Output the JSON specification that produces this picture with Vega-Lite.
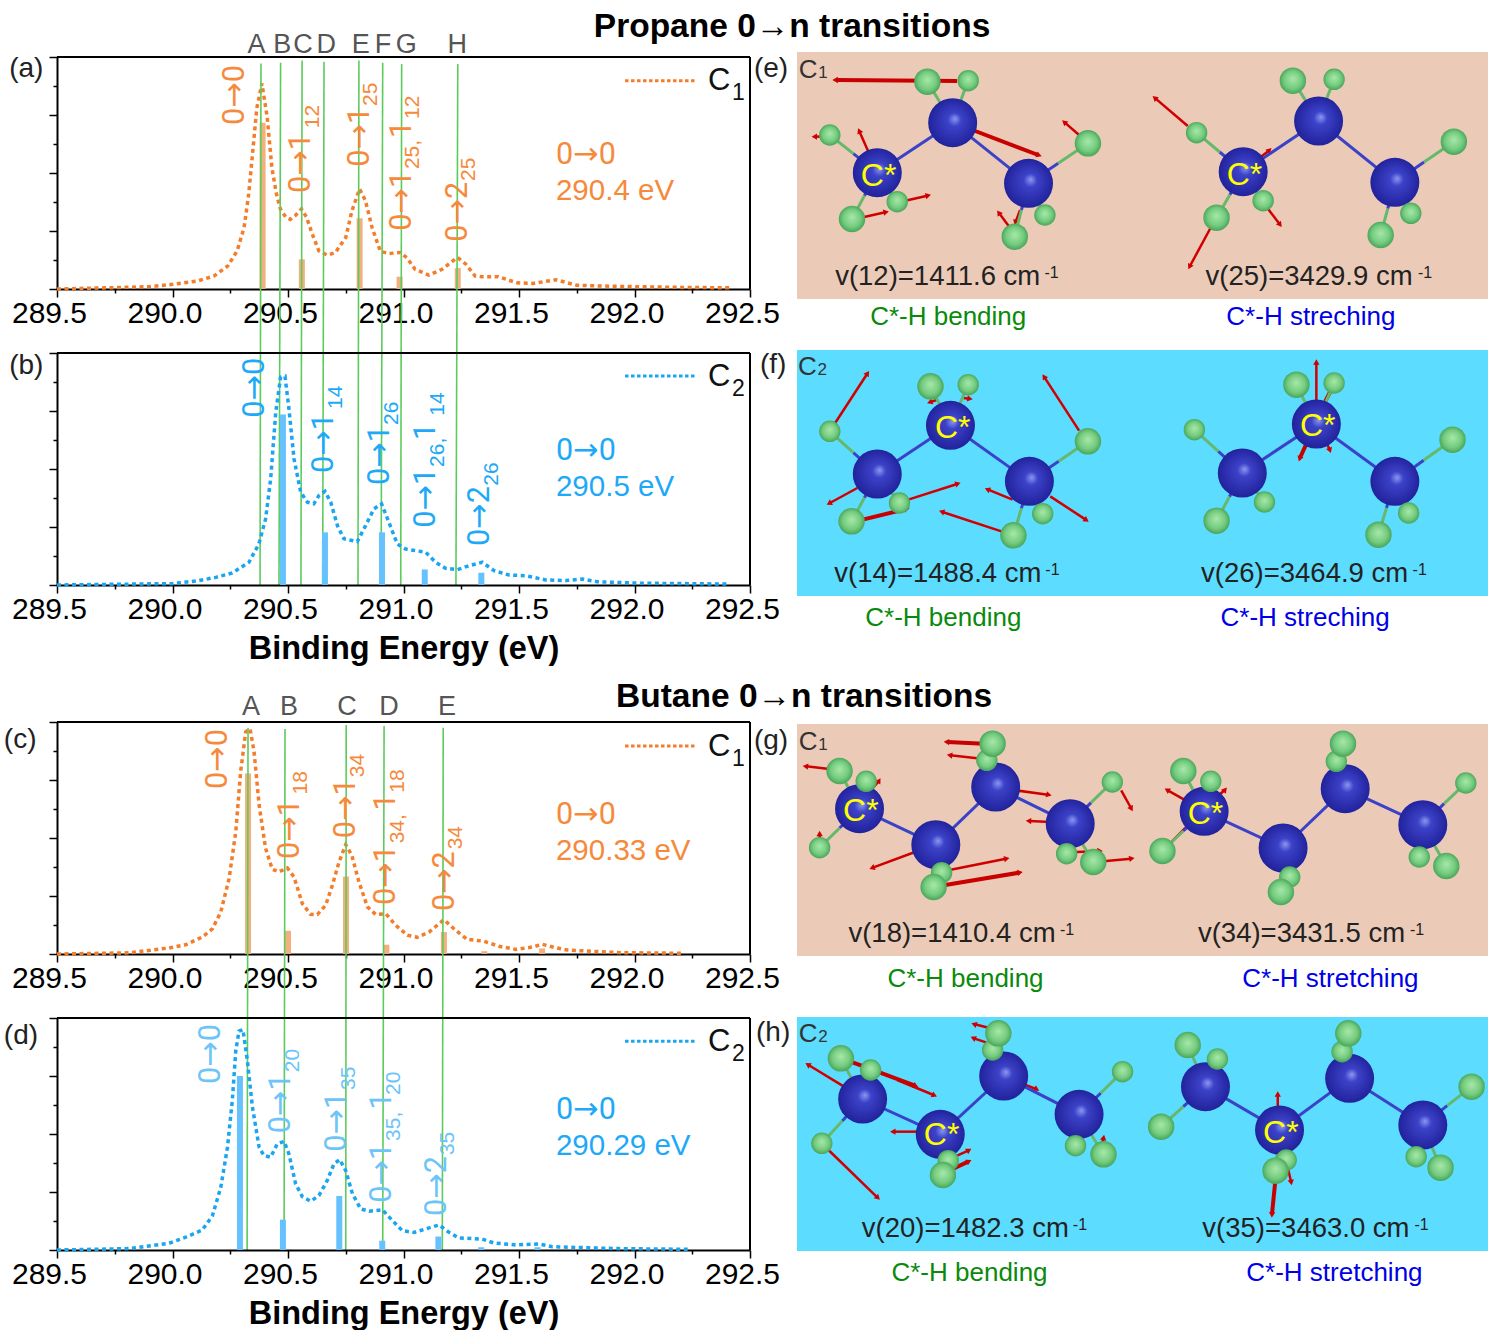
{"$schema":"https://vega.github.io/schema/vega-lite/v6.json","background":"white","padding":{"left":3,"top":10,"right":0,"bottom":0},"config":{"view":{"stroke":null},"text":{"font":"Liberation Sans"},"axis":{"grid":false,"domainColor":"#000","domainWidth":2,"tickColor":"#000","tickWidth":1.5,"labelFont":"Liberation Sans","labelFontSize":30,"labelColor":"#000","titleFont":"Liberation Sans","titleFontSize":32.5,"titleFontWeight":"bold","titleColor":"#000"}},"columns":2,"bounds":"flush","align":"each","spacing":{"row":0,"column":47},"concat":[
{"width":693,"height":237,"data":{"values":[
{"k":"title","x":292.682,"y":1.086,"t":"Propane 0→n transitions"},
{"k":"letter","x":290.364,"y":1.017,"t":"A"},{"k":"letter","x":290.475,"y":1.017,"t":"B"},{"k":"letter","x":290.565,"y":1.017,"t":"C"},{"k":"letter","x":290.666,"y":1.017,"t":"D"},{"k":"letter","x":290.815,"y":1.017,"t":"E"},{"k":"letter","x":290.911,"y":1.017,"t":"F"},{"k":"letter","x":291.012,"y":1.017,"t":"G"},{"k":"letter","x":291.233,"y":1.017,"t":"H"},
{"k":"p","x":289.293,"y":0.914,"t":"(a)"},{"k":"p","x":292.517,"y":0.914,"t":"(e)"},
{"k":"frame","x":289.5,"y":1,"x2":292.5,"y2":1},{"k":"frame","x":292.5,"y":0,"x2":292.5,"y2":1},
{"k":"leg","x":291.959,"y":0.898,"x2":292.266,"y2":0.898},{"k":"C","x":292.318,"y":0.858,"t":"C"},{"k":"Cs","x":292.422,"y":0.815,"t":"1"},
{"k":"noteA","x":291.66,"y":0.539,"t":"0→0"},{"k":"note","x":291.66,"y":0.384,"t":"290.4 eV"},
{"k":"stick","x":290.39,"y":0.717},{"k":"stick","x":290.56,"y":0.128},{"k":"stick","x":290.81,"y":0.305},{"k":"stick","x":290.983,"y":0.053},{"k":"stick","x":291.235,"y":0.09},
{"k":"lab","x":290.269,"y":0.707,"t":"0→0"},{"k":"lab","x":290.556,"y":0.414,"t":"0→1"},{"k":"lab","x":290.812,"y":0.527,"t":"0→1"},{"k":"lab","x":290.995,"y":0.251,"t":"0→1"},{"k":"lab","x":290.995,"y":0.651,"t":"1"},{"k":"lab","x":291.235,"y":0.204,"t":"0→2"},
{"k":"sub","x":290.607,"y":0.693,"t":"12"},{"k":"sub","x":290.858,"y":0.789,"t":"25"},{"k":"sub","x":291.041,"y":0.517,"t":"25,"},{"k":"sub","x":291.041,"y":0.733,"t":"12"},{"k":"sub","x":291.284,"y":0.466,"t":"25"},
{"k":"g","x":290.383,"y":0.972,"x2":290.379,"y2":-1.276},{"k":"g","x":290.468,"y":0.975,"x2":290.461,"y2":-1.276},{"k":"g","x":290.561,"y":0.985,"x2":290.556,"y2":-1.276},{"k":"g","x":290.656,"y":0.98,"x2":290.65,"y2":-1.276},{"k":"g","x":290.807,"y":0.985,"x2":290.803,"y2":-1.276},{"k":"g","x":290.91,"y":0.975,"x2":290.903,"y2":-1.276},{"k":"g","x":290.992,"y":0.97,"x2":290.988,"y2":-1.276},{"k":"g","x":291.235,"y":0.97,"x2":291.227,"y2":-1.276},
{"k":"curve","x":289.5,"y":0},{"k":"curve","x":289.75,"y":0.006},{"k":"curve","x":289.9,"y":0.01},{"k":"curve","x":290.0,"y":0.02},{"k":"curve","x":290.11,"y":0.035},{"k":"curve","x":290.18,"y":0.056},{"k":"curve","x":290.24,"y":0.1},{"k":"curve","x":290.28,"y":0.165},{"k":"curve","x":290.31,"y":0.265},{"k":"curve","x":290.33,"y":0.41},{"k":"curve","x":290.365,"y":0.78},{"k":"curve","x":290.387,"y":0.886},{"k":"curve","x":290.41,"y":0.74},{"k":"curve","x":290.43,"y":0.525},{"k":"curve","x":290.45,"y":0.41},{"k":"curve","x":290.467,"y":0.345},{"k":"curve","x":290.49,"y":0.31},{"k":"curve","x":290.51,"y":0.3},{"k":"curve","x":290.53,"y":0.315},{"k":"curve","x":290.558,"y":0.345},{"k":"curve","x":290.58,"y":0.31},{"k":"curve","x":290.605,"y":0.237},{"k":"curve","x":290.633,"y":0.165},{"k":"curve","x":290.67,"y":0.146},{"k":"curve","x":290.705,"y":0.157},{"k":"curve","x":290.75,"y":0.222},{"k":"curve","x":290.777,"y":0.338},{"k":"curve","x":290.81,"y":0.431},{"k":"curve","x":290.835,"y":0.381},{"k":"curve","x":290.864,"y":0.265},{"k":"curve","x":290.9,"y":0.162},{"k":"curve","x":290.936,"y":0.153},{"k":"curve","x":290.987,"y":0.157},{"k":"curve","x":291.016,"y":0.133},{"k":"curve","x":291.05,"y":0.085},{"k":"curve","x":291.11,"y":0.06},{"k":"curve","x":291.167,"y":0.085},{"k":"curve","x":291.233,"y":0.136},{"k":"curve","x":291.27,"y":0.107},{"k":"curve","x":291.31,"y":0.056},{"k":"curve","x":291.34,"y":0.053},{"k":"curve","x":291.41,"y":0.053},{"k":"curve","x":291.49,"y":0.027},{"k":"curve","x":291.56,"y":0.024},{"k":"curve","x":291.66,"y":0.04},{"k":"curve","x":291.75,"y":0.016},{"k":"curve","x":291.85,"y":0.013},{"k":"curve","x":292.0,"y":0.01},{"k":"curve","x":292.2,"y":0.007},{"k":"curve","x":292.42,"y":0.005}
]},"encoding":{"x":{"field":"x","type":"quantitative","scale":{"domain":[289.5,292.5],"nice":false,"zero":false},"axis":{"title":null,"values":[289.5,289.75,290,290.25,290.5,290.75,291,291.25,291.5,291.75,292,292.25,292.5],"labelExpr":"datum.value*2==round(datum.value*2)?format(datum.value,'.1f'):''","tickSize":{"condition":{"test":"datum.value*2==round(datum.value*2)","value":8},"value":4},"labelOffset":-8,"labelFlush":false,"labelOverlap":false,"labelPadding":1}},"y":{"field":"y","type":"quantitative","scale":{"domain":[0,1],"nice":false,"zero":false,"range":[237,5]},"axis":{"title":null,"labels":false,"values":[0,0.125,0.25,0.375,0.5,0.625,0.75,0.875,1],"tickSize":{"condition":{"test":"datum.value*4==round(datum.value*4)","value":8},"value":4}}}},"layer":[
{"transform":[{"filter":"datum.k=='stick'"}],"mark":{"type":"rule","color":"#F2B07F","strokeWidth":6},"encoding":{"y2":{"datum":0}}},
{"transform":[{"filter":"datum.k=='curve'"}],"mark":{"type":"line","color":"#F47D2B","strokeWidth":3.5,"strokeDash":[4,3.5]}},
{"transform":[{"filter":"datum.k=='g'"}],"mark":{"type":"rule","color":"#5CCB5C","strokeWidth":1.6},"encoding":{"x2":{"field":"x2"},"y2":{"field":"y2"}}},
{"transform":[{"filter":"datum.k=='frame'"}],"mark":{"type":"rule","color":"#000","strokeWidth":2},"encoding":{"x2":{"field":"x2"},"y2":{"field":"y2"}}},
{"transform":[{"filter":"datum.k=='leg'"}],"mark":{"type":"rule","color":"#F47D2B","strokeWidth":3,"strokeDash":[3.5,2.5]},"encoding":{"x2":{"field":"x2"},"y2":{"field":"y2"}}},
{"transform":[{"filter":"datum.k=='lab'"}],"mark":{"type":"text","font":"Roboto, DejaVu Sans","angle":270,"align":"left","baseline":"middle","fontSize":30.5,"color":"#F58A3C"},"encoding":{"text":{"field":"t"}}},
{"transform":[{"filter":"datum.k=='sub'"}],"mark":{"type":"text","angle":270,"align":"left","baseline":"middle","fontSize":21,"color":"#F58A3C"},"encoding":{"text":{"field":"t"}}},
{"transform":[{"filter":"datum.k=='letter'"}],"mark":{"type":"text","align":"center","baseline":"alphabetic","fontSize":27,"color":"#555"},"encoding":{"text":{"field":"t"}}},
{"transform":[{"filter":"datum.k=='title'"}],"mark":{"type":"text","align":"center","baseline":"alphabetic","fontSize":33.5,"fontWeight":"bold","color":"#000"},"encoding":{"text":{"field":"t"}}},
{"transform":[{"filter":"datum.k=='note'"}],"mark":{"type":"text","align":"left","baseline":"alphabetic","fontSize":29.5,"color":"#F58A3C"},"encoding":{"text":{"field":"t"}}},
{"transform":[{"filter":"datum.k=='noteA'"}],"mark":{"type":"text","font":"Roboto, DejaVu Sans","align":"left","baseline":"alphabetic","fontSize":30.5,"color":"#F58A3C"},"encoding":{"text":{"field":"t"}}},
{"transform":[{"filter":"datum.k=='C'"}],"mark":{"type":"text","align":"left","baseline":"alphabetic","fontSize":31,"color":"#111"},"encoding":{"text":{"field":"t"}}},
{"transform":[{"filter":"datum.k=='Cs'"}],"mark":{"type":"text","align":"left","baseline":"alphabetic","fontSize":23,"color":"#111"},"encoding":{"text":{"field":"t"}}},
{"transform":[{"filter":"datum.k=='p'"}],"mark":{"type":"text","align":"left","baseline":"alphabetic","fontSize":28,"color":"#222"},"encoding":{"text":{"field":"t"}}}
]},
{"width":691,"height":247,"data":{"values":[
{"k":"bg","x":4,"y":747,"x2":1562,"y2":6},
{"k":"AR","x":365,"y":93,"x2":92,"y2":90,"a":270},{"k":"ar","x":165,"y":305,"x2":145,"y2":245,"a":336},{"k":"ar","x":78,"y":258,"x2":45,"y2":260,"a":270},{"k":"AR","x":400,"y":240,"x2":548,"y2":315,"a":110},{"k":"ar","x":640,"y":255,"x2":608,"y2":218,"a":310},{"k":"ar","x":248,"y":452,"x2":298,"y2":437,"a":77},{"k":"ar","x":148,"y":503,"x2":203,"y2":487,"a":78},{"k":"ar","x":485,"y":535,"x2":460,"y2":490,"a":324},{"k":"ar","x":507,"y":480,"x2":497,"y2":515,"a":198},
{"k":"ar","x":885,"y":228,"x2":812,"y2":145,"a":311},{"k":"ar","x":940,"y":525,"x2":890,"y2":648,"a":208},{"k":"ar","x":1065,"y":475,"x2":1092,"y2":522,"a":143},{"k":"ar","x":1050,"y":320,"x2":1068,"y2":302,"a":45},
{"k":"b","x":185,"y":368,"xm":355,"ym":218},{"k":"b","x":355,"y":218,"xm":526,"ym":400},
{"k":"h","x":185,"y":368,"xm":131,"ym":311,"x2":78,"y2":255},{"k":"h","x":185,"y":368,"xm":156,"ym":437,"x2":128,"y2":507},{"k":"h","x":185,"y":368,"xm":207,"ym":411,"x2":230,"y2":455},{"k":"h","x":355,"y":218,"xm":326,"ym":156,"x2":298,"y2":95},{"k":"h","x":355,"y":218,"xm":372,"ym":155,"x2":390,"y2":92},{"k":"h","x":526,"y":400,"xm":593,"ym":340,"x2":660,"y2":280},{"k":"h","x":526,"y":400,"xm":510,"ym":480,"x2":495,"y2":560},{"k":"h","x":526,"y":400,"xm":544,"ym":447,"x2":563,"y2":495},
{"k":"b","x":1010,"y":365,"xm":1180,"ym":213},{"k":"b","x":1180,"y":213,"xm":1352,"ym":397},
{"k":"h","x":1010,"y":365,"xm":957,"ym":306,"x2":905,"y2":248},{"k":"h","x":1010,"y":365,"xm":980,"ym":434,"x2":950,"y2":503},{"k":"h","x":1010,"y":365,"xm":1032,"ym":408,"x2":1055,"y2":452},{"k":"h","x":1180,"y":213,"xm":1151,"ym":152,"x2":1122,"y2":92},{"k":"h","x":1180,"y":213,"xm":1197,"ym":150,"x2":1215,"y2":88},{"k":"h","x":1352,"y":397,"xm":1418,"ym":336,"x2":1485,"y2":275},{"k":"h","x":1352,"y":397,"xm":1336,"ym":476,"x2":1320,"y2":555},{"k":"h","x":1352,"y":397,"xm":1370,"ym":443,"x2":1388,"y2":490},
{"k":"atomC","x":185,"y":368},{"k":"atomC","x":355,"y":218},{"k":"atomC","x":526,"y":400},{"k":"atomC","x":1010,"y":365},{"k":"atomC","x":1180,"y":213},{"k":"atomC","x":1352,"y":397},
{"k":"atomH","s":"small","x":78,"y":255},{"k":"atomH","s":"big","x":298,"y":95},{"k":"atomH","s":"small","x":390,"y":92},{"k":"atomH","s":"big","x":660,"y":280},{"k":"atomH","s":"big","x":128,"y":507},{"k":"atomH","s":"small","x":230,"y":455},{"k":"atomH","s":"big","x":495,"y":560},{"k":"atomH","s":"small","x":563,"y":495},
{"k":"atomH","s":"small","x":905,"y":248},{"k":"atomH","s":"big","x":1122,"y":92},{"k":"atomH","s":"small","x":1215,"y":88},{"k":"atomH","s":"big","x":1485,"y":275},{"k":"atomH","s":"big","x":950,"y":503},{"k":"atomH","s":"small","x":1055,"y":452},{"k":"atomH","s":"big","x":1320,"y":555},{"k":"atomH","s":"small","x":1388,"y":490},
{"k":"star","x":188,"y":408,"t":"C*"},{"k":"star","x":1013,"y":405,"t":"C*"},
{"k":"v","x":90,"y":705,"t":"v(12)=1411.6 cm"},{"k":"v","x":925,"y":705,"t":"v(25)=3429.9 cm"},{"k":"sup","x":562,"y":685,"t":"-1"},{"k":"sup","x":1404,"y":685,"t":"-1"},
{"k":"c","x":8,"y":85,"t":"C"},{"k":"cs","x":52,"y":85,"t":"1"},
{"k":"capg","x":169,"y":825,"t":"C*-H bending"},{"k":"capb","x":972,"y":825,"t":"C*-H streching"}
]},"encoding":{"x":{"field":"x","type":"quantitative","scale":{"domain":[4,1562],"nice":false,"zero":false,"range":[0,691]},"axis":null},"y":{"field":"y","type":"quantitative","scale":{"domain":[747,6],"nice":false,"zero":false,"range":[247,0]},"axis":null}},"layer":[
{"transform":[{"filter":"datum.k=='bg'"}],"mark":{"type":"rect","color":"#EBCBB7"},"encoding":{"x2":{"field":"x2"},"y2":{"field":"y2"}}},
{"transform":[{"filter":"datum.k=='ar'"}],"mark":{"type":"rule","color":"#D00000","strokeWidth":2.5},"encoding":{"x2":{"field":"x2"},"y2":{"field":"y2"}}},
{"transform":[{"filter":"datum.k=='AR'"}],"mark":{"type":"rule","color":"#C80000","strokeWidth":4},"encoding":{"x2":{"field":"x2"},"y2":{"field":"y2"}}},
{"transform":[{"filter":"datum.k=='ar'||datum.k=='AR'"}],"mark":{"type":"point","shape":"triangle","filled":true,"color":"#D00000","opacity":1,"size":40},"encoding":{"x":{"field":"x2","type":"quantitative","axis":null},"y":{"field":"y2","type":"quantitative","axis":null},"angle":{"field":"a","type":"quantitative","scale":null}}},
{"transform":[{"filter":"datum.k=='b'||datum.k=='h'"}],"mark":{"type":"rule","color":"#3A42C8","strokeWidth":3},"encoding":{"x2":{"field":"xm"},"y2":{"field":"ym"}}},
{"transform":[{"filter":"datum.k=='h'"}],"mark":{"type":"rule","color":"#66B86A","strokeWidth":3},"encoding":{"x":{"field":"xm","type":"quantitative","axis":null},"y":{"field":"ym","type":"quantitative","axis":null},"x2":{"field":"x2"},"y2":{"field":"y2"}}},
{"transform":[{"filter":"datum.k=='atomC'"}],"mark":{"type":"point","shape":"circle","filled":true,"opacity":1,"size":2400,"fill":{"gradient":"radial","x1":0.55,"y1":0.42,"r1":0,"x2":0.5,"y2":0.5,"r2":0.55,"stops":[{"offset":0,"color":"#8C98F0"},{"offset":0.25,"color":"#3C42C8"},{"offset":1,"color":"#1E1E96"}]}}},
{"transform":[{"filter":"datum.k=='atomH'"}],"mark":{"type":"point","shape":"circle","filled":true,"opacity":1,"fill":{"gradient":"radial","x1":0.5,"y1":0.42,"r1":0,"x2":0.5,"y2":0.5,"r2":0.55,"stops":[{"offset":0,"color":"#A8E8A8"},{"offset":0.6,"color":"#74CC80"},{"offset":1,"color":"#3F9B50"}]}},"encoding":{"size":{"field":"s","type":"nominal","scale":{"domain":["big","small"],"range":[700,460]},"legend":null}}},
{"transform":[{"filter":"datum.k=='star'"}],"mark":{"type":"text","align":"center","baseline":"alphabetic","fontSize":32,"color":"#FFFF00"},"encoding":{"text":{"field":"t"}}},
{"transform":[{"filter":"datum.k=='v'"}],"mark":{"type":"text","align":"left","baseline":"alphabetic","fontSize":27.5,"color":"#222"},"encoding":{"text":{"field":"t"}}},
{"transform":[{"filter":"datum.k=='sup'"}],"mark":{"type":"text","align":"left","baseline":"alphabetic","fontSize":16,"color":"#222"},"encoding":{"text":{"field":"t"}}},
{"transform":[{"filter":"datum.k=='c'"}],"mark":{"type":"text","align":"left","baseline":"alphabetic","fontSize":26,"color":"#333"},"encoding":{"text":{"field":"t"}}},
{"transform":[{"filter":"datum.k=='cs'"}],"mark":{"type":"text","align":"left","baseline":"alphabetic","fontSize":17,"color":"#333"},"encoding":{"text":{"field":"t"}}},
{"transform":[{"filter":"datum.k=='capg'"}],"mark":{"type":"text","align":"left","baseline":"alphabetic","fontSize":26,"color":"#0A8A0A"},"encoding":{"text":{"field":"t"}}},
{"transform":[{"filter":"datum.k=='capb'"}],"mark":{"type":"text","align":"left","baseline":"alphabetic","fontSize":26,"color":"#0000E6"},"encoding":{"text":{"field":"t"}}}
]},
{"width":1,"height":51,"data":{"values":[{"z":0}]},"mark":{"type":"rule","opacity":0},"encoding":{}},
{"width":1,"height":51,"data":{"values":[{"z":0}]},"mark":{"type":"rule","opacity":0},"encoding":{}},
{"width":693,"height":235,"data":{"values":[
{"k":"p","x":289.293,"y":0.909,"t":"(b)"},{"k":"p","x":292.543,"y":0.913,"t":"(f)"},
{"k":"frame","x":289.5,"y":1,"x2":292.5,"y2":1},{"k":"frame","x":292.5,"y":0,"x2":292.5,"y2":1},
{"k":"leg","x":291.959,"y":0.901,"x2":292.266,"y2":0.901},{"k":"C","x":292.318,"y":0.858,"t":"C"},{"k":"Cs","x":292.422,"y":0.815,"t":"2"},
{"k":"noteA","x":291.66,"y":0.539,"t":"0→0"},{"k":"note","x":291.66,"y":0.384,"t":"290.5 eV"},
{"k":"stick","x":290.478,"y":0.735},{"k":"stick","x":290.66,"y":0.227},{"k":"stick","x":290.907,"y":0.227},{"k":"stick","x":291.092,"y":0.067},{"k":"stick","x":291.337,"y":0.053},
{"k":"lab","x":290.356,"y":0.721,"t":"0→0"},{"k":"lab","x":290.656,"y":0.483,"t":"0→1"},{"k":"lab","x":290.897,"y":0.431,"t":"0→1"},{"k":"lab","x":291.099,"y":0.247,"t":"0→1"},{"k":"lab","x":291.099,"y":0.625,"t":"1"},{"k":"lab","x":291.33,"y":0.168,"t":"0→2"},
{"k":"sub","x":290.706,"y":0.759,"t":"14"},{"k":"sub","x":290.949,"y":0.69,"t":"26"},{"k":"sub","x":291.148,"y":0.509,"t":"26,"},{"k":"sub","x":291.148,"y":0.73,"t":"14"},{"k":"sub","x":291.382,"y":0.428,"t":"26"},
{"k":"curve","x":289.5,"y":0},{"k":"curve","x":290.0,"y":0.006},{"k":"curve","x":290.115,"y":0.019},{"k":"curve","x":290.187,"y":0.033},{"k":"curve","x":290.259,"y":0.052},{"k":"curve","x":290.331,"y":0.098},{"k":"curve","x":290.374,"y":0.177},{"k":"curve","x":290.403,"y":0.285},{"k":"curve","x":290.425,"y":0.458},{"k":"curve","x":290.447,"y":0.745},{"k":"curve","x":290.468,"y":0.896},{"k":"curve","x":290.487,"y":0.9},{"k":"curve","x":290.504,"y":0.76},{"k":"curve","x":290.526,"y":0.544},{"k":"curve","x":290.555,"y":0.4},{"k":"curve","x":290.584,"y":0.357},{"k":"curve","x":290.612,"y":0.35},{"k":"curve","x":290.634,"y":0.386},{"k":"curve","x":290.66,"y":0.404},{"k":"curve","x":290.685,"y":0.357},{"k":"curve","x":290.714,"y":0.256},{"k":"curve","x":290.742,"y":0.199},{"k":"curve","x":290.8,"y":0.187},{"k":"curve","x":290.836,"y":0.256},{"k":"curve","x":290.872,"y":0.328},{"k":"curve","x":290.905,"y":0.35},{"k":"curve","x":290.937,"y":0.27},{"k":"curve","x":290.973,"y":0.177},{"k":"curve","x":291.009,"y":0.155},{"k":"curve","x":291.096,"y":0.141},{"k":"curve","x":291.139,"y":0.098},{"k":"curve","x":291.182,"y":0.072},{"k":"curve","x":291.233,"y":0.066},{"k":"curve","x":291.283,"y":0.083},{"k":"curve","x":291.341,"y":0.098},{"k":"curve","x":291.392,"y":0.062},{"k":"curve","x":291.457,"y":0.043},{"k":"curve","x":291.529,"y":0.04},{"k":"curve","x":291.615,"y":0.022},{"k":"curve","x":291.702,"y":0.019},{"k":"curve","x":291.774,"y":0.026},{"k":"curve","x":291.839,"y":0.014},{"k":"curve","x":292.02,"y":0.008},{"k":"curve","x":292.41,"y":0.004}
]},"encoding":{"x":{"field":"x","type":"quantitative","scale":{"domain":[289.5,292.5],"nice":false,"zero":false},"axis":{"title":"Binding Energy (eV)","titlePadding":8,"values":[289.5,289.75,290,290.25,290.5,290.75,291,291.25,291.5,291.75,292,292.25,292.5],"labelExpr":"datum.value*2==round(datum.value*2)?format(datum.value,'.1f'):''","tickSize":{"condition":{"test":"datum.value*2==round(datum.value*2)","value":8},"value":4},"labelOffset":-8,"labelFlush":false,"labelOverlap":false,"labelPadding":1}},"y":{"field":"y","type":"quantitative","scale":{"domain":[0,1],"nice":false,"zero":false,"range":[235,3]},"axis":{"title":null,"labels":false,"values":[0,0.125,0.25,0.375,0.5,0.625,0.75,0.875,1],"tickSize":{"condition":{"test":"datum.value*4==round(datum.value*4)","value":8},"value":4}}}},"layer":[
{"transform":[{"filter":"datum.k=='stick'"}],"mark":{"type":"rule","color":"#66C2FF","strokeWidth":6},"encoding":{"y2":{"datum":0}}},
{"transform":[{"filter":"datum.k=='curve'"}],"mark":{"type":"line","color":"#1AA5F0","strokeWidth":3.5,"strokeDash":[4,3.5]}},
{"transform":[{"filter":"datum.k=='frame'"}],"mark":{"type":"rule","color":"#000","strokeWidth":2},"encoding":{"x2":{"field":"x2"},"y2":{"field":"y2"}}},
{"transform":[{"filter":"datum.k=='leg'"}],"mark":{"type":"rule","color":"#1AA5F0","strokeWidth":3,"strokeDash":[3.5,2.5]},"encoding":{"x2":{"field":"x2"},"y2":{"field":"y2"}}},
{"transform":[{"filter":"datum.k=='lab'"}],"mark":{"type":"text","font":"Roboto, DejaVu Sans","angle":270,"align":"left","baseline":"middle","fontSize":30.5,"color":"#1EA9F8"},"encoding":{"text":{"field":"t"}}},
{"transform":[{"filter":"datum.k=='sub'"}],"mark":{"type":"text","angle":270,"align":"left","baseline":"middle","fontSize":21,"color":"#1EA9F8"},"encoding":{"text":{"field":"t"}}},
{"transform":[{"filter":"datum.k=='note'"}],"mark":{"type":"text","align":"left","baseline":"alphabetic","fontSize":29.5,"color":"#1EA9F8"},"encoding":{"text":{"field":"t"}}},
{"transform":[{"filter":"datum.k=='noteA'"}],"mark":{"type":"text","font":"Roboto, DejaVu Sans","align":"left","baseline":"alphabetic","fontSize":30.5,"color":"#1EA9F8"},"encoding":{"text":{"field":"t"}}},
{"transform":[{"filter":"datum.k=='C'"}],"mark":{"type":"text","align":"left","baseline":"alphabetic","fontSize":31,"color":"#111"},"encoding":{"text":{"field":"t"}}},
{"transform":[{"filter":"datum.k=='Cs'"}],"mark":{"type":"text","align":"left","baseline":"alphabetic","fontSize":23,"color":"#111"},"encoding":{"text":{"field":"t"}}},
{"transform":[{"filter":"datum.k=='p'"}],"mark":{"type":"text","align":"left","baseline":"alphabetic","fontSize":28,"color":"#222"},"encoding":{"text":{"field":"t"}}}
]},
{"width":691,"height":246,"data":{"values":[
{"k":"bg","x":4,"y":744,"x2":1562,"y2":6},
{"k":"ar","x":90,"y":225,"x2":162,"y2":78,"a":33},{"k":"ar","x":640,"y":248,"x2":562,"y2":88,"a":327},{"k":"ar","x":140,"y":420,"x2":78,"y2":465,"a":241},{"k":"ar","x":255,"y":455,"x2":365,"y2":408,"a":72},{"k":"AR","x":143,"y":518,"x2":250,"y2":483,"a":76},{"k":"ar","x":465,"y":550,"x2":332,"y2":492,"a":288},{"k":"ar","x":490,"y":455,"x2":435,"y2":425,"a":293},{"k":"ar","x":575,"y":445,"x2":655,"y2":515,"a":123},{"k":"ar","x":322,"y":155,"x2":305,"y2":162,"a":250},{"k":"ar","x":380,"y":150,"x2":392,"y2":152,"a":100},
{"k":"ar","x":1175,"y":160,"x2":1175,"y2":45,"a":0},{"k":"AR","x":1195,"y":160,"x2":1210,"y2":122,"a":20},{"k":"AR","x":1155,"y":280,"x2":1138,"y2":330,"a":198},{"k":"ar","x":1200,"y":290,"x2":1205,"y2":305,"a":160},
{"k":"b","x":185,"y":378,"xm":350,"ym":232},{"k":"b","x":350,"y":232,"xm":528,"ym":400},
{"k":"h","x":185,"y":378,"xm":131,"ym":314,"x2":78,"y2":250},{"k":"h","x":185,"y":378,"xm":156,"ym":449,"x2":127,"y2":520},{"k":"h","x":185,"y":378,"xm":210,"ym":421,"x2":235,"y2":465},{"k":"h","x":350,"y":232,"xm":327,"ym":173,"x2":305,"y2":115},{"k":"h","x":350,"y":232,"xm":370,"ym":171,"x2":390,"y2":110},{"k":"h","x":528,"y":400,"xm":594,"ym":340,"x2":660,"y2":280},{"k":"h","x":528,"y":400,"xm":510,"ym":481,"x2":492,"y2":562},{"k":"h","x":528,"y":400,"xm":543,"ym":448,"x2":558,"y2":497},
{"k":"b","x":1008,"y":375,"xm":1175,"ym":228},{"k":"b","x":1175,"y":228,"xm":1352,"ym":400},
{"k":"h","x":1008,"y":375,"xm":954,"ym":310,"x2":900,"y2":245},{"k":"h","x":1008,"y":375,"xm":979,"ym":446,"x2":950,"y2":518},{"k":"h","x":1008,"y":375,"xm":1033,"ym":418,"x2":1058,"y2":462},{"k":"h","x":1175,"y":228,"xm":1152,"ym":169,"x2":1130,"y2":110},{"k":"h","x":1175,"y":228,"xm":1195,"ym":166,"x2":1215,"y2":105},{"k":"h","x":1352,"y":400,"xm":1417,"ym":337,"x2":1482,"y2":275},{"k":"h","x":1352,"y":400,"xm":1333,"ym":480,"x2":1315,"y2":560},{"k":"h","x":1352,"y":400,"xm":1367,"ym":447,"x2":1383,"y2":495},
{"k":"atomC","x":185,"y":378},{"k":"atomC","x":350,"y":232},{"k":"atomC","x":528,"y":400},{"k":"atomC","x":1008,"y":375},{"k":"atomC","x":1175,"y":228},{"k":"atomC","x":1352,"y":400},
{"k":"atomH","s":"small","x":78,"y":250},{"k":"atomH","s":"big","x":305,"y":115},{"k":"atomH","s":"small","x":390,"y":110},{"k":"atomH","s":"big","x":660,"y":280},{"k":"atomH","s":"big","x":127,"y":520},{"k":"atomH","s":"small","x":235,"y":465},{"k":"atomH","s":"big","x":492,"y":562},{"k":"atomH","s":"small","x":558,"y":497},
{"k":"atomH","s":"small","x":900,"y":245},{"k":"atomH","s":"big","x":1130,"y":110},{"k":"atomH","s":"small","x":1215,"y":105},{"k":"atomH","s":"big","x":1482,"y":275},{"k":"atomH","s":"big","x":950,"y":518},{"k":"atomH","s":"small","x":1058,"y":462},{"k":"atomH","s":"big","x":1315,"y":560},{"k":"atomH","s":"small","x":1383,"y":495},
{"k":"star","x":355,"y":270,"t":"C*"},{"k":"star","x":1178,"y":265,"t":"C*"},
{"k":"v","x":88,"y":702,"t":"v(14)=1488.4 cm"},{"k":"v","x":915,"y":702,"t":"v(26)=3464.9 cm"},{"k":"sup","x":564,"y":682,"t":"-1"},{"k":"sup","x":1392,"y":682,"t":"-1"},
{"k":"c","x":6,"y":82,"t":"C"},{"k":"cs","x":50,"y":82,"t":"2"},
{"k":"capg","x":158,"y":834,"t":"C*-H bending"},{"k":"capb","x":959,"y":834,"t":"C*-H streching"}
]},"encoding":{"x":{"field":"x","type":"quantitative","scale":{"domain":[4,1562],"nice":false,"zero":false,"range":[0,691]},"axis":null},"y":{"field":"y","type":"quantitative","scale":{"domain":[744,6],"nice":false,"zero":false,"range":[246,0]},"axis":null}},"layer":[
{"transform":[{"filter":"datum.k=='bg'"}],"mark":{"type":"rect","color":"#5CDCFF"},"encoding":{"x2":{"field":"x2"},"y2":{"field":"y2"}}},
{"transform":[{"filter":"datum.k=='ar'"}],"mark":{"type":"rule","color":"#D00000","strokeWidth":2.5},"encoding":{"x2":{"field":"x2"},"y2":{"field":"y2"}}},
{"transform":[{"filter":"datum.k=='AR'"}],"mark":{"type":"rule","color":"#C80000","strokeWidth":4},"encoding":{"x2":{"field":"x2"},"y2":{"field":"y2"}}},
{"transform":[{"filter":"datum.k=='ar'||datum.k=='AR'"}],"mark":{"type":"point","shape":"triangle","filled":true,"color":"#D00000","opacity":1,"size":40},"encoding":{"x":{"field":"x2","type":"quantitative","axis":null},"y":{"field":"y2","type":"quantitative","axis":null},"angle":{"field":"a","type":"quantitative","scale":null}}},
{"transform":[{"filter":"datum.k=='b'||datum.k=='h'"}],"mark":{"type":"rule","color":"#3A42C8","strokeWidth":3},"encoding":{"x2":{"field":"xm"},"y2":{"field":"ym"}}},
{"transform":[{"filter":"datum.k=='h'"}],"mark":{"type":"rule","color":"#66B86A","strokeWidth":3},"encoding":{"x":{"field":"xm","type":"quantitative","axis":null},"y":{"field":"ym","type":"quantitative","axis":null},"x2":{"field":"x2"},"y2":{"field":"y2"}}},
{"transform":[{"filter":"datum.k=='atomC'"}],"mark":{"type":"point","shape":"circle","filled":true,"opacity":1,"size":2400,"fill":{"gradient":"radial","x1":0.55,"y1":0.42,"r1":0,"x2":0.5,"y2":0.5,"r2":0.55,"stops":[{"offset":0,"color":"#8C98F0"},{"offset":0.25,"color":"#3C42C8"},{"offset":1,"color":"#1E1E96"}]}}},
{"transform":[{"filter":"datum.k=='atomH'"}],"mark":{"type":"point","shape":"circle","filled":true,"opacity":1,"fill":{"gradient":"radial","x1":0.5,"y1":0.42,"r1":0,"x2":0.5,"y2":0.5,"r2":0.55,"stops":[{"offset":0,"color":"#A8E8A8"},{"offset":0.6,"color":"#74CC80"},{"offset":1,"color":"#3F9B50"}]}},"encoding":{"size":{"field":"s","type":"nominal","scale":{"domain":["big","small"],"range":[700,460]},"legend":null}}},
{"transform":[{"filter":"datum.k=='star'"}],"mark":{"type":"text","align":"center","baseline":"alphabetic","fontSize":32,"color":"#FFFF00"},"encoding":{"text":{"field":"t"}}},
{"transform":[{"filter":"datum.k=='v'"}],"mark":{"type":"text","align":"left","baseline":"alphabetic","fontSize":27.5,"color":"#222"},"encoding":{"text":{"field":"t"}}},
{"transform":[{"filter":"datum.k=='sup'"}],"mark":{"type":"text","align":"left","baseline":"alphabetic","fontSize":16,"color":"#222"},"encoding":{"text":{"field":"t"}}},
{"transform":[{"filter":"datum.k=='c'"}],"mark":{"type":"text","align":"left","baseline":"alphabetic","fontSize":26,"color":"#333"},"encoding":{"text":{"field":"t"}}},
{"transform":[{"filter":"datum.k=='cs'"}],"mark":{"type":"text","align":"left","baseline":"alphabetic","fontSize":17,"color":"#333"},"encoding":{"text":{"field":"t"}}},
{"transform":[{"filter":"datum.k=='capg'"}],"mark":{"type":"text","align":"left","baseline":"alphabetic","fontSize":26,"color":"#0A8A0A"},"encoding":{"text":{"field":"t"}}},
{"transform":[{"filter":"datum.k=='capb'"}],"mark":{"type":"text","align":"left","baseline":"alphabetic","fontSize":26,"color":"#0000E6"},"encoding":{"text":{"field":"t"}}}
]},
{"width":1,"height":126,"data":{"values":[{"z":0}]},"mark":{"type":"rule","opacity":0},"encoding":{}},
{"width":1,"height":126,"data":{"values":[{"z":0}]},"mark":{"type":"rule","opacity":0},"encoding":{}},
{"width":693,"height":232,"data":{"values":[
{"k":"title","x":292.734,"y":1.065,"t":"Butane 0→n transitions"},
{"k":"letter","x":290.34,"y":1.03,"t":"A"},{"k":"letter","x":290.504,"y":1.03,"t":"B"},{"k":"letter","x":290.755,"y":1.03,"t":"C"},{"k":"letter","x":290.937,"y":1.03,"t":"D"},{"k":"letter","x":291.188,"y":1.03,"t":"E"},
{"k":"p","x":289.27,"y":0.888,"t":"(c)"},{"k":"p","x":292.517,"y":0.884,"t":"(g)"},
{"k":"frame","x":289.5,"y":1,"x2":292.5,"y2":1},{"k":"frame","x":292.5,"y":0,"x2":292.5,"y2":1},
{"k":"leg","x":291.959,"y":0.897,"x2":292.266,"y2":0.897},{"k":"C","x":292.318,"y":0.853,"t":"C"},{"k":"Cs","x":292.422,"y":0.81,"t":"1"},
{"k":"noteA","x":291.66,"y":0.56,"t":"0→0"},{"k":"note","x":291.66,"y":0.405,"t":"290.33 eV"},
{"k":"stick","x":290.327,"y":0.778},{"k":"stick","x":290.5,"y":0.1},{"k":"stick","x":290.751,"y":0.334},{"k":"stick","x":290.926,"y":0.04},{"k":"stick","x":291.175,"y":0.095},{"k":"stick","x":291.35,"y":0.012},{"k":"stick","x":291.6,"y":0.024},
{"k":"lab","x":290.198,"y":0.711,"t":"0→0"},{"k":"lab","x":290.507,"y":0.41,"t":"0→1"},{"k":"lab","x":290.752,"y":0.499,"t":"0→1"},{"k":"lab","x":290.926,"y":0.211,"t":"0→1"},{"k":"lab","x":290.926,"y":0.618,"t":"1"},{"k":"lab","x":291.18,"y":0.185,"t":"0→2"},
{"k":"sub","x":290.558,"y":0.688,"t":"18"},{"k":"sub","x":290.802,"y":0.762,"t":"34"},{"k":"sub","x":290.975,"y":0.477,"t":"34,"},{"k":"sub","x":290.975,"y":0.695,"t":"18"},{"k":"sub","x":291.229,"y":0.451,"t":"34"},
{"k":"g","x":290.327,"y":0.974,"x2":290.323,"y2":-1.276},{"k":"g","x":290.487,"y":0.97,"x2":290.483,"y2":-1.276},{"k":"g","x":290.752,"y":0.987,"x2":290.75,"y2":-1.276},{"k":"g","x":290.916,"y":0.983,"x2":290.91,"y2":-1.276},{"k":"g","x":291.172,"y":0.975,"x2":291.168,"y2":-1.276},
{"k":"curve","x":289.5,"y":0},{"k":"curve","x":289.81,"y":0.005},{"k":"curve","x":289.985,"y":0.026},{"k":"curve","x":290.057,"y":0.04},{"k":"curve","x":290.129,"y":0.073},{"k":"curve","x":290.173,"y":0.109},{"k":"curve","x":290.209,"y":0.181},{"k":"curve","x":290.245,"y":0.325},{"k":"curve","x":290.274,"y":0.527},{"k":"curve","x":290.295,"y":0.786},{"k":"curve","x":290.317,"y":0.958},{"k":"curve","x":290.336,"y":0.97},{"k":"curve","x":290.353,"y":0.872},{"k":"curve","x":290.375,"y":0.642},{"k":"curve","x":290.403,"y":0.455},{"k":"curve","x":290.432,"y":0.365},{"k":"curve","x":290.461,"y":0.354},{"k":"curve","x":290.497,"y":0.371},{"k":"curve","x":290.526,"y":0.332},{"k":"curve","x":290.562,"y":0.217},{"k":"curve","x":290.598,"y":0.171},{"k":"curve","x":290.627,"y":0.17},{"k":"curve","x":290.663,"y":0.21},{"k":"curve","x":290.692,"y":0.296},{"k":"curve","x":290.721,"y":0.397},{"k":"curve","x":290.75,"y":0.472},{"k":"curve","x":290.776,"y":0.426},{"k":"curve","x":290.807,"y":0.311},{"k":"curve","x":290.844,"y":0.203},{"k":"curve","x":290.88,"y":0.17},{"k":"curve","x":290.923,"y":0.174},{"k":"curve","x":290.966,"y":0.124},{"k":"curve","x":291.017,"y":0.081},{"k":"curve","x":291.06,"y":0.072},{"k":"curve","x":291.111,"y":0.095},{"k":"curve","x":291.175,"y":0.148},{"k":"curve","x":291.226,"y":0.102},{"k":"curve","x":291.276,"y":0.063},{"k":"curve","x":291.349,"y":0.055},{"k":"curve","x":291.414,"y":0.033},{"k":"curve","x":291.486,"y":0.02},{"k":"curve","x":291.558,"y":0.03},{"k":"curve","x":291.601,"y":0.042},{"k":"curve","x":291.659,"y":0.027},{"k":"curve","x":291.709,"y":0.017},{"k":"curve","x":291.93,"y":0.006},{"k":"curve","x":292.21,"y":0.003}
]},"encoding":{"x":{"field":"x","type":"quantitative","scale":{"domain":[289.5,292.5],"nice":false,"zero":false},"axis":{"title":null,"values":[289.5,289.75,290,290.25,290.5,290.75,291,291.25,291.5,291.75,292,292.25,292.5],"labelExpr":"datum.value*2==round(datum.value*2)?format(datum.value,'.1f'):''","tickSize":{"condition":{"test":"datum.value*2==round(datum.value*2)","value":8},"value":4},"labelOffset":-8,"labelFlush":false,"labelOverlap":false,"labelPadding":1}},"y":{"field":"y","type":"quantitative","scale":{"domain":[0,1],"nice":false,"zero":false,"range":[232,0]},"axis":{"title":null,"labels":false,"values":[0,0.125,0.25,0.375,0.5,0.625,0.75,0.875,1],"tickSize":{"condition":{"test":"datum.value*4==round(datum.value*4)","value":8},"value":4}}}},"layer":[
{"transform":[{"filter":"datum.k=='stick'"}],"mark":{"type":"rule","color":"#F2B07F","strokeWidth":6},"encoding":{"y2":{"datum":0}}},
{"transform":[{"filter":"datum.k=='curve'"}],"mark":{"type":"line","color":"#F47D2B","strokeWidth":3.5,"strokeDash":[4,3.5]}},
{"transform":[{"filter":"datum.k=='g'"}],"mark":{"type":"rule","color":"#5CCB5C","strokeWidth":1.6},"encoding":{"x2":{"field":"x2"},"y2":{"field":"y2"}}},
{"transform":[{"filter":"datum.k=='frame'"}],"mark":{"type":"rule","color":"#000","strokeWidth":2},"encoding":{"x2":{"field":"x2"},"y2":{"field":"y2"}}},
{"transform":[{"filter":"datum.k=='leg'"}],"mark":{"type":"rule","color":"#F47D2B","strokeWidth":3,"strokeDash":[3.5,2.5]},"encoding":{"x2":{"field":"x2"},"y2":{"field":"y2"}}},
{"transform":[{"filter":"datum.k=='lab'"}],"mark":{"type":"text","font":"Roboto, DejaVu Sans","angle":270,"align":"left","baseline":"middle","fontSize":30.5,"color":"#F58A3C"},"encoding":{"text":{"field":"t"}}},
{"transform":[{"filter":"datum.k=='sub'"}],"mark":{"type":"text","angle":270,"align":"left","baseline":"middle","fontSize":21,"color":"#F58A3C"},"encoding":{"text":{"field":"t"}}},
{"transform":[{"filter":"datum.k=='letter'"}],"mark":{"type":"text","align":"center","baseline":"alphabetic","fontSize":27,"color":"#555"},"encoding":{"text":{"field":"t"}}},
{"transform":[{"filter":"datum.k=='title'"}],"mark":{"type":"text","align":"center","baseline":"alphabetic","fontSize":33.5,"fontWeight":"bold","color":"#000"},"encoding":{"text":{"field":"t"}}},
{"transform":[{"filter":"datum.k=='note'"}],"mark":{"type":"text","align":"left","baseline":"alphabetic","fontSize":29.5,"color":"#F58A3C"},"encoding":{"text":{"field":"t"}}},
{"transform":[{"filter":"datum.k=='noteA'"}],"mark":{"type":"text","font":"Roboto, DejaVu Sans","align":"left","baseline":"alphabetic","fontSize":30.5,"color":"#F58A3C"},"encoding":{"text":{"field":"t"}}},
{"transform":[{"filter":"datum.k=='C'"}],"mark":{"type":"text","align":"left","baseline":"alphabetic","fontSize":31,"color":"#111"},"encoding":{"text":{"field":"t"}}},
{"transform":[{"filter":"datum.k=='Cs'"}],"mark":{"type":"text","align":"left","baseline":"alphabetic","fontSize":23,"color":"#111"},"encoding":{"text":{"field":"t"}}},
{"transform":[{"filter":"datum.k=='p'"}],"mark":{"type":"text","align":"left","baseline":"alphabetic","fontSize":28,"color":"#222"},"encoding":{"text":{"field":"t"}}}
]},
{"width":691,"height":234,"data":{"values":[
{"k":"bg","x":4,"y":702,"x2":1562,"y2":6},
{"k":"ar","x":100,"y":145,"x2":25,"y2":133,"a":277},{"k":"ar","x":170,"y":205,"x2":188,"y2":178,"a":32},{"k":"ar","x":55,"y":350,"x2":55,"y2":337,"a":0},{"k":"AR","x":425,"y":65,"x2":343,"y2":60,"a":272},{"k":"ar","x":420,"y":110,"x2":350,"y2":100,"a":278},{"k":"ar","x":497,"y":205,"x2":570,"y2":218,"a":103},{"k":"ar","x":575,"y":300,"x2":528,"y2":297,"a":272},{"k":"ar","x":735,"y":205,"x2":757,"y2":258,"a":151},{"k":"ar","x":270,"y":390,"x2":175,"y2":437,"a":249},{"k":"ar","x":345,"y":445,"x2":475,"y2":410,"a":78},{"k":"AR","x":335,"y":490,"x2":505,"y2":452,"a":80},{"k":"ar","x":635,"y":390,"x2":685,"y2":387,"a":90},{"k":"ar","x":695,"y":418,"x2":757,"y2":410,"a":80},
{"k":"ar","x":880,"y":235,"x2":840,"y2":205,"a":299},{"k":"ar","x":950,"y":225,"x2":968,"y2":205,"a":40},{"k":"ar","x":885,"y":310,"x2":845,"y2":365,"a":225},
{"k":"b","x":145,"y":260,"xm":317,"ym":368},{"k":"b","x":317,"y":368,"xm":452,"ym":195},{"k":"b","x":452,"y":195,"xm":620,"ym":305},
{"k":"h","x":145,"y":260,"xm":122,"ym":203,"x2":100,"y2":147},{"k":"h","x":145,"y":260,"xm":152,"ym":219,"x2":160,"y2":178},{"k":"h","x":145,"y":260,"xm":100,"ym":318,"x2":55,"y2":377},{"k":"h","x":452,"y":195,"xm":448,"ym":130,"x2":445,"y2":65},{"k":"h","x":452,"y":195,"xm":442,"ym":155,"x2":432,"y2":115},{"k":"h","x":620,"y":305,"xm":667,"ym":242,"x2":715,"y2":180},{"k":"h","x":317,"y":368,"xm":314,"ym":431,"x2":312,"y2":495},{"k":"h","x":317,"y":368,"xm":323,"ym":410,"x2":330,"y2":452},{"k":"h","x":620,"y":305,"xm":616,"ym":350,"x2":612,"y2":395},{"k":"h","x":620,"y":305,"xm":646,"ym":362,"x2":672,"y2":420},
{"k":"b","x":922,"y":268,"xm":1100,"ym":378},{"k":"b","x":1100,"y":378,"xm":1240,"ym":200},{"k":"b","x":1240,"y":200,"xm":1415,"ym":308},
{"k":"h","x":922,"y":268,"xm":898,"ym":207,"x2":875,"y2":147},{"k":"h","x":922,"y":268,"xm":930,"ym":223,"x2":937,"y2":178},{"k":"h","x":922,"y":268,"xm":875,"ym":327,"x2":828,"y2":387},{"k":"h","x":1240,"y":200,"xm":1237,"ym":132,"x2":1235,"y2":65},{"k":"h","x":1240,"y":200,"xm":1230,"ym":159,"x2":1220,"y2":118},{"k":"h","x":1415,"y":308,"xm":1463,"ym":245,"x2":1512,"y2":183},{"k":"h","x":1100,"y":378,"xm":1097,"ym":444,"x2":1095,"y2":510},{"k":"h","x":1100,"y":378,"xm":1107,"ym":421,"x2":1115,"y2":465},{"k":"h","x":1415,"y":308,"xm":1411,"ym":356,"x2":1407,"y2":405},{"k":"h","x":1415,"y":308,"xm":1441,"ym":370,"x2":1468,"y2":432},
{"k":"atomC","x":145,"y":260},{"k":"atomC","x":317,"y":368},{"k":"atomC","x":452,"y":195},{"k":"atomC","x":620,"y":305},{"k":"atomC","x":922,"y":268},{"k":"atomC","x":1100,"y":378},{"k":"atomC","x":1240,"y":200},{"k":"atomC","x":1415,"y":308},
{"k":"atomH","s":"big","x":100,"y":147},{"k":"atomH","s":"small","x":160,"y":178},{"k":"atomH","s":"small","x":55,"y":377},{"k":"atomH","s":"small","x":432,"y":115},{"k":"atomH","s":"big","x":445,"y":65},{"k":"atomH","s":"small","x":715,"y":180},{"k":"atomH","s":"small","x":330,"y":452},{"k":"atomH","s":"big","x":312,"y":495},{"k":"atomH","s":"small","x":612,"y":395},{"k":"atomH","s":"big","x":672,"y":420},
{"k":"atomH","s":"big","x":875,"y":147},{"k":"atomH","s":"small","x":937,"y":178},{"k":"atomH","s":"big","x":828,"y":387},{"k":"atomH","s":"small","x":1220,"y":118},{"k":"atomH","s":"big","x":1235,"y":65},{"k":"atomH","s":"small","x":1512,"y":183},{"k":"atomH","s":"small","x":1115,"y":465},{"k":"atomH","s":"big","x":1095,"y":510},{"k":"atomH","s":"small","x":1407,"y":405},{"k":"atomH","s":"big","x":1468,"y":432},
{"k":"star","x":148,"y":298,"t":"C*"},{"k":"star","x":925,"y":306,"t":"C*"},
{"k":"v","x":120,"y":660,"t":"v(18)=1410.4 cm"},{"k":"v","x":908,"y":660,"t":"v(34)=3431.5 cm"},{"k":"sup","x":597,"y":640,"t":"-1"},{"k":"sup","x":1386,"y":640,"t":"-1"},
{"k":"c","x":8,"y":85,"t":"C"},{"k":"cs","x":52,"y":85,"t":"1"},
{"k":"capg","x":208,"y":795,"t":"C*-H bending"},{"k":"capb","x":1008,"y":795,"t":"C*-H stretching"}
]},"encoding":{"x":{"field":"x","type":"quantitative","scale":{"domain":[4,1562],"nice":false,"zero":false,"range":[0,691]},"axis":null},"y":{"field":"y","type":"quantitative","scale":{"domain":[702,6],"nice":false,"zero":false,"range":[234,2]},"axis":null}},"layer":[
{"transform":[{"filter":"datum.k=='bg'"}],"mark":{"type":"rect","color":"#EBCBB7"},"encoding":{"x2":{"field":"x2"},"y2":{"field":"y2"}}},
{"transform":[{"filter":"datum.k=='ar'"}],"mark":{"type":"rule","color":"#D00000","strokeWidth":2.5},"encoding":{"x2":{"field":"x2"},"y2":{"field":"y2"}}},
{"transform":[{"filter":"datum.k=='AR'"}],"mark":{"type":"rule","color":"#C80000","strokeWidth":4},"encoding":{"x2":{"field":"x2"},"y2":{"field":"y2"}}},
{"transform":[{"filter":"datum.k=='ar'||datum.k=='AR'"}],"mark":{"type":"point","shape":"triangle","filled":true,"color":"#D00000","opacity":1,"size":40},"encoding":{"x":{"field":"x2","type":"quantitative","axis":null},"y":{"field":"y2","type":"quantitative","axis":null},"angle":{"field":"a","type":"quantitative","scale":null}}},
{"transform":[{"filter":"datum.k=='b'||datum.k=='h'"}],"mark":{"type":"rule","color":"#3A42C8","strokeWidth":3},"encoding":{"x2":{"field":"xm"},"y2":{"field":"ym"}}},
{"transform":[{"filter":"datum.k=='h'"}],"mark":{"type":"rule","color":"#66B86A","strokeWidth":3},"encoding":{"x":{"field":"xm","type":"quantitative","axis":null},"y":{"field":"ym","type":"quantitative","axis":null},"x2":{"field":"x2"},"y2":{"field":"y2"}}},
{"transform":[{"filter":"datum.k=='atomC'"}],"mark":{"type":"point","shape":"circle","filled":true,"opacity":1,"size":2400,"fill":{"gradient":"radial","x1":0.55,"y1":0.42,"r1":0,"x2":0.5,"y2":0.5,"r2":0.55,"stops":[{"offset":0,"color":"#8C98F0"},{"offset":0.25,"color":"#3C42C8"},{"offset":1,"color":"#1E1E96"}]}}},
{"transform":[{"filter":"datum.k=='atomH'"}],"mark":{"type":"point","shape":"circle","filled":true,"opacity":1,"fill":{"gradient":"radial","x1":0.5,"y1":0.42,"r1":0,"x2":0.5,"y2":0.5,"r2":0.55,"stops":[{"offset":0,"color":"#A8E8A8"},{"offset":0.6,"color":"#74CC80"},{"offset":1,"color":"#3F9B50"}]}},"encoding":{"size":{"field":"s","type":"nominal","scale":{"domain":["big","small"],"range":[700,460]},"legend":null}}},
{"transform":[{"filter":"datum.k=='star'"}],"mark":{"type":"text","align":"center","baseline":"alphabetic","fontSize":32,"color":"#FFFF00"},"encoding":{"text":{"field":"t"}}},
{"transform":[{"filter":"datum.k=='v'"}],"mark":{"type":"text","align":"left","baseline":"alphabetic","fontSize":27.5,"color":"#222"},"encoding":{"text":{"field":"t"}}},
{"transform":[{"filter":"datum.k=='sup'"}],"mark":{"type":"text","align":"left","baseline":"alphabetic","fontSize":16,"color":"#222"},"encoding":{"text":{"field":"t"}}},
{"transform":[{"filter":"datum.k=='c'"}],"mark":{"type":"text","align":"left","baseline":"alphabetic","fontSize":26,"color":"#333"},"encoding":{"text":{"field":"t"}}},
{"transform":[{"filter":"datum.k=='cs'"}],"mark":{"type":"text","align":"left","baseline":"alphabetic","fontSize":17,"color":"#333"},"encoding":{"text":{"field":"t"}}},
{"transform":[{"filter":"datum.k=='capg'"}],"mark":{"type":"text","align":"left","baseline":"alphabetic","fontSize":26,"color":"#0A8A0A"},"encoding":{"text":{"field":"t"}}},
{"transform":[{"filter":"datum.k=='capb'"}],"mark":{"type":"text","align":"left","baseline":"alphabetic","fontSize":26,"color":"#0000E6"},"encoding":{"text":{"field":"t"}}}
]},
{"width":1,"height":61,"data":{"values":[{"z":0}]},"mark":{"type":"rule","opacity":0},"encoding":{}},
{"width":1,"height":61,"data":{"values":[{"z":0}]},"mark":{"type":"rule","opacity":0},"encoding":{}},
{"width":693,"height":233,"data":{"values":[
{"k":"p","x":289.27,"y":0.888,"t":"(d)"},{"k":"p","x":292.526,"y":0.9,"t":"(h)"},
{"k":"frame","x":289.5,"y":1,"x2":292.5,"y2":1},{"k":"frame","x":292.5,"y":0,"x2":292.5,"y2":1},
{"k":"leg","x":291.959,"y":0.9,"x2":292.266,"y2":0.9},{"k":"C","x":292.318,"y":0.858,"t":"C"},{"k":"Cs","x":292.422,"y":0.815,"t":"2"},
{"k":"noteA","x":291.66,"y":0.565,"t":"0→0"},{"k":"note","x":291.66,"y":0.409,"t":"290.29 eV"},
{"k":"stick","x":290.292,"y":0.75},{"k":"stick","x":290.478,"y":0.131},{"k":"stick","x":290.722,"y":0.233},{"k":"stick","x":290.908,"y":0.04},{"k":"stick","x":291.151,"y":0.058},{"k":"stick","x":291.336,"y":0.012},{"k":"stick","x":291.58,"y":0.012},
{"k":"lab","x":290.168,"y":0.716,"t":"0→0"},{"k":"lab","x":290.471,"y":0.503,"t":"0→1"},{"k":"lab","x":290.713,"y":0.424,"t":"0→1"},{"k":"lab","x":290.908,"y":0.204,"t":"0→1"},{"k":"lab","x":290.908,"y":0.606,"t":"1"},{"k":"lab","x":291.144,"y":0.147,"t":"0→2"},
{"k":"sub","x":290.522,"y":0.766,"t":"20"},{"k":"sub","x":290.764,"y":0.69,"t":"35"},{"k":"sub","x":290.959,"y":0.47,"t":"35,"},{"k":"sub","x":290.959,"y":0.668,"t":"20"},{"k":"sub","x":291.193,"y":0.409,"t":"35"},
{"k":"curve","x":289.5,"y":0},{"k":"curve","x":289.81,"y":0.006},{"k":"curve","x":289.985,"y":0.029},{"k":"curve","x":290.057,"y":0.055},{"k":"curve","x":290.129,"y":0.086},{"k":"curve","x":290.173,"y":0.148},{"k":"curve","x":290.209,"y":0.27},{"k":"curve","x":290.238,"y":0.443},{"k":"curve","x":290.259,"y":0.645},{"k":"curve","x":290.274,"y":0.86},{"k":"curve","x":290.288,"y":0.944},{"k":"curve","x":290.305,"y":0.95},{"k":"curve","x":290.324,"y":0.817},{"k":"curve","x":290.346,"y":0.616},{"k":"curve","x":290.375,"y":0.443},{"k":"curve","x":290.396,"y":0.407},{"k":"curve","x":290.425,"y":0.4},{"k":"curve","x":290.454,"y":0.458},{"k":"curve","x":290.483,"y":0.468},{"k":"curve","x":290.504,"y":0.414},{"k":"curve","x":290.533,"y":0.285},{"k":"curve","x":290.562,"y":0.23},{"k":"curve","x":290.598,"y":0.21},{"k":"curve","x":290.634,"y":0.235},{"k":"curve","x":290.67,"y":0.3},{"k":"curve","x":290.699,"y":0.371},{"k":"curve","x":290.724,"y":0.39},{"k":"curve","x":290.75,"y":0.342},{"k":"curve","x":290.779,"y":0.242},{"k":"curve","x":290.815,"y":0.177},{"k":"curve","x":290.851,"y":0.167},{"k":"curve","x":290.909,"y":0.173},{"k":"curve","x":290.952,"y":0.127},{"k":"curve","x":290.995,"y":0.083},{"k":"curve","x":291.046,"y":0.076},{"k":"curve","x":291.096,"y":0.091},{"k":"curve","x":291.154,"y":0.108},{"k":"curve","x":291.197,"y":0.076},{"k":"curve","x":291.24,"y":0.052},{"k":"curve","x":291.341,"y":0.047},{"k":"curve","x":291.392,"y":0.03},{"k":"curve","x":291.486,"y":0.022},{"k":"curve","x":291.587,"y":0.026},{"k":"curve","x":291.644,"y":0.014},{"k":"curve","x":291.93,"y":0.006},{"k":"curve","x":292.24,"y":0.003}
]},"encoding":{"x":{"field":"x","type":"quantitative","scale":{"domain":[289.5,292.5],"nice":false,"zero":false},"axis":{"title":"Binding Energy (eV)","titlePadding":8,"values":[289.5,289.75,290,290.25,290.5,290.75,291,291.25,291.5,291.75,292,292.25,292.5],"labelExpr":"datum.value*2==round(datum.value*2)?format(datum.value,'.1f'):''","tickSize":{"condition":{"test":"datum.value*2==round(datum.value*2)","value":8},"value":4},"labelOffset":-8,"labelFlush":false,"labelOverlap":false,"labelPadding":1}},"y":{"field":"y","type":"quantitative","scale":{"domain":[0,1],"nice":false,"zero":false,"range":[233,1]},"axis":{"title":null,"labels":false,"values":[0,0.125,0.25,0.375,0.5,0.625,0.75,0.875,1],"tickSize":{"condition":{"test":"datum.value*4==round(datum.value*4)","value":8},"value":4}}}},"layer":[
{"transform":[{"filter":"datum.k=='stick'"}],"mark":{"type":"rule","color":"#66C2FF","strokeWidth":6},"encoding":{"y2":{"datum":0}}},
{"transform":[{"filter":"datum.k=='curve'"}],"mark":{"type":"line","color":"#1AA5F0","strokeWidth":3.5,"strokeDash":[4,3.5]}},
{"transform":[{"filter":"datum.k=='frame'"}],"mark":{"type":"rule","color":"#000","strokeWidth":2},"encoding":{"x2":{"field":"x2"},"y2":{"field":"y2"}}},
{"transform":[{"filter":"datum.k=='leg'"}],"mark":{"type":"rule","color":"#1AA5F0","strokeWidth":3,"strokeDash":[3.5,2.5]},"encoding":{"x2":{"field":"x2"},"y2":{"field":"y2"}}},
{"transform":[{"filter":"datum.k=='lab'"}],"mark":{"type":"text","font":"Roboto, DejaVu Sans","angle":270,"align":"left","baseline":"middle","fontSize":30.5,"color":"#6CC4F8"},"encoding":{"text":{"field":"t"}}},
{"transform":[{"filter":"datum.k=='sub'"}],"mark":{"type":"text","angle":270,"align":"left","baseline":"middle","fontSize":21,"color":"#6CC4F8"},"encoding":{"text":{"field":"t"}}},
{"transform":[{"filter":"datum.k=='note'"}],"mark":{"type":"text","align":"left","baseline":"alphabetic","fontSize":29.5,"color":"#1EA9F8"},"encoding":{"text":{"field":"t"}}},
{"transform":[{"filter":"datum.k=='noteA'"}],"mark":{"type":"text","font":"Roboto, DejaVu Sans","align":"left","baseline":"alphabetic","fontSize":30.5,"color":"#1EA9F8"},"encoding":{"text":{"field":"t"}}},
{"transform":[{"filter":"datum.k=='C'"}],"mark":{"type":"text","align":"left","baseline":"alphabetic","fontSize":31,"color":"#111"},"encoding":{"text":{"field":"t"}}},
{"transform":[{"filter":"datum.k=='Cs'"}],"mark":{"type":"text","align":"left","baseline":"alphabetic","fontSize":23,"color":"#111"},"encoding":{"text":{"field":"t"}}},
{"transform":[{"filter":"datum.k=='p'"}],"mark":{"type":"text","align":"left","baseline":"alphabetic","fontSize":28,"color":"#222"},"encoding":{"text":{"field":"t"}}}
]},
{"width":691,"height":234,"data":{"values":[
{"k":"bg","x":4,"y":708,"x2":1562,"y2":6},
{"k":"ar","x":110,"y":215,"x2":30,"y2":150,"a":302},{"k":"AR","x":125,"y":140,"x2":270,"y2":212,"a":110},{"k":"ar","x":230,"y":195,"x2":312,"y2":240,"a":113},{"k":"ar","x":510,"y":205,"x2":543,"y2":222,"a":117},{"k":"ar","x":278,"y":350,"x2":222,"y2":350,"a":270},{"k":"ar","x":360,"y":425,"x2":390,"y2":407,"a":60},{"k":"AR","x":355,"y":462,"x2":390,"y2":440,"a":64},{"k":"ar","x":75,"y":405,"x2":185,"y2":547,"a":134},{"k":"ar","x":440,"y":40,"x2":405,"y2":28,"a":288},{"k":"ar","x":437,"y":85,"x2":403,"y2":70,"a":294},{"k":"ar","x":690,"y":395,"x2":695,"y2":370,"a":10},
{"k":"ar","x":1088,"y":280,"x2":1088,"y2":240,"a":0},{"k":"AR","x":1083,"y":490,"x2":1075,"y2":597,"a":183},{"k":"ar","x":1110,"y":455,"x2":1118,"y2":500,"a":170},
{"k":"b","x":152,"y":252,"xm":327,"ym":358},{"k":"b","x":327,"y":358,"xm":470,"ym":183},{"k":"b","x":470,"y":183,"xm":640,"ym":298},
{"k":"h","x":152,"y":252,"xm":127,"ym":191,"x2":103,"y2":130},{"k":"h","x":152,"y":252,"xm":161,"ym":208,"x2":170,"y2":165},{"k":"h","x":152,"y":252,"xm":106,"ym":318,"x2":60,"y2":385},{"k":"h","x":470,"y":183,"xm":464,"ym":119,"x2":458,"y2":55},{"k":"h","x":470,"y":183,"xm":457,"ym":144,"x2":445,"y2":105},{"k":"h","x":640,"y":298,"xm":689,"ym":234,"x2":738,"y2":170},{"k":"h","x":327,"y":358,"xm":330,"ym":419,"x2":333,"y2":480},{"k":"h","x":327,"y":358,"xm":336,"ym":397,"x2":345,"y2":437},{"k":"h","x":640,"y":298,"xm":636,"ym":345,"x2":632,"y2":392},{"k":"h","x":640,"y":298,"xm":667,"ym":358,"x2":695,"y2":418},
{"k":"b","x":925,"y":215,"xm":1092,"ym":345},{"k":"b","x":1092,"y":345,"xm":1250,"ym":190},{"k":"b","x":1250,"y":190,"xm":1415,"ym":330},
{"k":"h","x":925,"y":215,"xm":905,"ym":152,"x2":885,"y2":90},{"k":"h","x":925,"y":215,"xm":938,"ym":173,"x2":952,"y2":132},{"k":"h","x":925,"y":215,"xm":875,"ym":275,"x2":825,"y2":335},{"k":"h","x":1250,"y":190,"xm":1248,"ym":122,"x2":1247,"y2":55},{"k":"h","x":1250,"y":190,"xm":1241,"ym":150,"x2":1233,"y2":110},{"k":"h","x":1415,"y":330,"xm":1470,"ym":272,"x2":1525,"y2":215},{"k":"h","x":1415,"y":330,"xm":1407,"ym":377,"x2":1400,"y2":425},{"k":"h","x":1415,"y":330,"xm":1435,"ym":394,"x2":1455,"y2":458},{"k":"h","x":1092,"y":345,"xm":1087,"ym":406,"x2":1083,"y2":467},{"k":"h","x":1092,"y":345,"xm":1100,"ym":390,"x2":1107,"y2":435},
{"k":"atomC","x":152,"y":252},{"k":"atomC","x":327,"y":358},{"k":"atomC","x":470,"y":183},{"k":"atomC","x":640,"y":298},{"k":"atomC","x":925,"y":215},{"k":"atomC","x":1092,"y":345},{"k":"atomC","x":1250,"y":190},{"k":"atomC","x":1415,"y":330},
{"k":"atomH","s":"small","x":170,"y":165},{"k":"atomH","s":"big","x":103,"y":130},{"k":"atomH","s":"small","x":60,"y":385},{"k":"atomH","s":"small","x":445,"y":105},{"k":"atomH","s":"big","x":458,"y":55},{"k":"atomH","s":"small","x":738,"y":170},{"k":"atomH","s":"small","x":345,"y":437},{"k":"atomH","s":"big","x":333,"y":480},{"k":"atomH","s":"small","x":632,"y":392},{"k":"atomH","s":"big","x":695,"y":418},
{"k":"atomH","s":"small","x":952,"y":132},{"k":"atomH","s":"big","x":885,"y":90},{"k":"atomH","s":"big","x":825,"y":335},{"k":"atomH","s":"small","x":1233,"y":110},{"k":"atomH","s":"big","x":1247,"y":55},{"k":"atomH","s":"big","x":1525,"y":215},{"k":"atomH","s":"small","x":1107,"y":435},{"k":"atomH","s":"big","x":1083,"y":467},{"k":"atomH","s":"small","x":1400,"y":425},{"k":"atomH","s":"big","x":1455,"y":458},
{"k":"star","x":330,"y":390,"t":"C*"},{"k":"star","x":1095,"y":385,"t":"C*"},
{"k":"v","x":150,"y":665,"t":"v(20)=1482.3 cm"},{"k":"v","x":918,"y":665,"t":"v(35)=3463.0 cm"},{"k":"sup","x":626,"y":645,"t":"-1"},{"k":"sup","x":1396,"y":645,"t":"-1"},
{"k":"c","x":8,"y":80,"t":"C"},{"k":"cs","x":52,"y":80,"t":"2"},
{"k":"capg","x":217,"y":798,"t":"C*-H bending"},{"k":"capb","x":1017,"y":798,"t":"C*-H stretching"}
]},"encoding":{"x":{"field":"x","type":"quantitative","scale":{"domain":[4,1562],"nice":false,"zero":false,"range":[0,691]},"axis":null},"y":{"field":"y","type":"quantitative","scale":{"domain":[708,6],"nice":false,"zero":false,"range":[234,0]},"axis":null}},"layer":[
{"transform":[{"filter":"datum.k=='bg'"}],"mark":{"type":"rect","color":"#5CDCFF"},"encoding":{"x2":{"field":"x2"},"y2":{"field":"y2"}}},
{"transform":[{"filter":"datum.k=='ar'"}],"mark":{"type":"rule","color":"#D00000","strokeWidth":2.5},"encoding":{"x2":{"field":"x2"},"y2":{"field":"y2"}}},
{"transform":[{"filter":"datum.k=='AR'"}],"mark":{"type":"rule","color":"#C80000","strokeWidth":4},"encoding":{"x2":{"field":"x2"},"y2":{"field":"y2"}}},
{"transform":[{"filter":"datum.k=='ar'||datum.k=='AR'"}],"mark":{"type":"point","shape":"triangle","filled":true,"color":"#D00000","opacity":1,"size":40},"encoding":{"x":{"field":"x2","type":"quantitative","axis":null},"y":{"field":"y2","type":"quantitative","axis":null},"angle":{"field":"a","type":"quantitative","scale":null}}},
{"transform":[{"filter":"datum.k=='b'||datum.k=='h'"}],"mark":{"type":"rule","color":"#3A42C8","strokeWidth":3},"encoding":{"x2":{"field":"xm"},"y2":{"field":"ym"}}},
{"transform":[{"filter":"datum.k=='h'"}],"mark":{"type":"rule","color":"#66B86A","strokeWidth":3},"encoding":{"x":{"field":"xm","type":"quantitative","axis":null},"y":{"field":"ym","type":"quantitative","axis":null},"x2":{"field":"x2"},"y2":{"field":"y2"}}},
{"transform":[{"filter":"datum.k=='atomC'"}],"mark":{"type":"point","shape":"circle","filled":true,"opacity":1,"size":2400,"fill":{"gradient":"radial","x1":0.55,"y1":0.42,"r1":0,"x2":0.5,"y2":0.5,"r2":0.55,"stops":[{"offset":0,"color":"#8C98F0"},{"offset":0.25,"color":"#3C42C8"},{"offset":1,"color":"#1E1E96"}]}}},
{"transform":[{"filter":"datum.k=='atomH'"}],"mark":{"type":"point","shape":"circle","filled":true,"opacity":1,"fill":{"gradient":"radial","x1":0.5,"y1":0.42,"r1":0,"x2":0.5,"y2":0.5,"r2":0.55,"stops":[{"offset":0,"color":"#A8E8A8"},{"offset":0.6,"color":"#74CC80"},{"offset":1,"color":"#3F9B50"}]}},"encoding":{"size":{"field":"s","type":"nominal","scale":{"domain":["big","small"],"range":[700,460]},"legend":null}}},
{"transform":[{"filter":"datum.k=='star'"}],"mark":{"type":"text","align":"center","baseline":"alphabetic","fontSize":32,"color":"#FFFF00"},"encoding":{"text":{"field":"t"}}},
{"transform":[{"filter":"datum.k=='v'"}],"mark":{"type":"text","align":"left","baseline":"alphabetic","fontSize":27.5,"color":"#222"},"encoding":{"text":{"field":"t"}}},
{"transform":[{"filter":"datum.k=='sup'"}],"mark":{"type":"text","align":"left","baseline":"alphabetic","fontSize":16,"color":"#222"},"encoding":{"text":{"field":"t"}}},
{"transform":[{"filter":"datum.k=='c'"}],"mark":{"type":"text","align":"left","baseline":"alphabetic","fontSize":26,"color":"#333"},"encoding":{"text":{"field":"t"}}},
{"transform":[{"filter":"datum.k=='cs'"}],"mark":{"type":"text","align":"left","baseline":"alphabetic","fontSize":17,"color":"#333"},"encoding":{"text":{"field":"t"}}},
{"transform":[{"filter":"datum.k=='capg'"}],"mark":{"type":"text","align":"left","baseline":"alphabetic","fontSize":26,"color":"#0A8A0A"},"encoding":{"text":{"field":"t"}}},
{"transform":[{"filter":"datum.k=='capb'"}],"mark":{"type":"text","align":"left","baseline":"alphabetic","fontSize":26,"color":"#0000E6"},"encoding":{"text":{"field":"t"}}}
]}
]}
